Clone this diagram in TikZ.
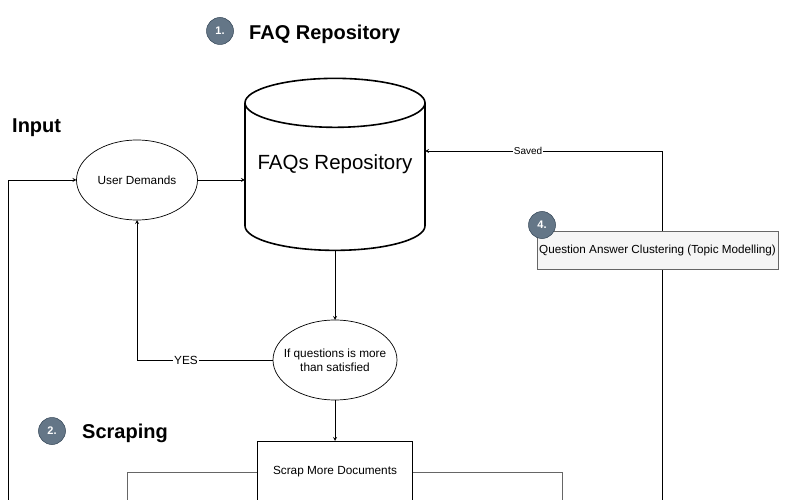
\documentclass[tikz,border=0pt]{standalone}
\usepackage{fontspec}
\setmainfont{Liberation Sans}
\usetikzlibrary{arrows,shapes}
\pgfdeclarelayer{background}
\pgfsetlayers{background,main}
\definecolor{slate}{RGB}{100,118,135}
\definecolor{slateline}{RGB}{49,67,84}
\definecolor{boxgray}{RGB}{245,245,245}
\tikzstyle{badge}=[circle,fill=slate,draw=slateline,line width=0.5pt,minimum size=27pt,inner sep=0pt,text=white,font=\bfseries\fontsize{11}{13}\selectfont]
\tikzstyle{heading}=[anchor=base west,inner sep=0pt,font=\bfseries\fontsize{20}{24}\selectfont]
\tikzstyle{oval}=[ellipse,draw,line width=0.7pt,inner sep=0pt,outer sep=0pt,align=center,font=\fontsize{11.8}{14}\selectfont]
\tikzstyle{store}=[cylinder,shape border rotate=90,draw,line width=1.6pt,aspect=0.316,minimum width=180pt,minimum height=172pt,inner sep=0pt,outer sep=0pt,text depth=29pt,font=\fontsize{20.5}{24}\selectfont]
\tikzstyle{task}=[rectangle,draw,line width=0.8pt,minimum width=155pt,minimum height=62pt,inner sep=0pt,outer sep=0pt,font=\fontsize{11.8}{14}\selectfont]
\tikzstyle{tagbox}=[rectangle,draw=black!60,fill=boxgray,line width=0.8pt,minimum width=241pt,minimum height=38pt,inner sep=0pt,font=\fontsize{11.7}{14}\selectfont]
\tikzstyle{tag}=[fill=white,inner sep=1pt]
\tikzstyle{edge}=[draw,line width=0.8pt,-stealth]
\tikzstyle{link}=[draw,line width=0.8pt,black!60]

\begin{document}
\begin{tikzpicture}[x=1pt,y=-1pt]
    \useasboundingbox (0,0) rectangle (788,500);
    \clip (0,0) rectangle (788,500);
    % First we draw the boxes
    \node[store] (repo) at (335,177) {FAQs Repository};
    \node[oval,minimum width=121pt,minimum height=80pt] (demand) at (137,180) {User Demands};
    \node[oval,inner xsep=-9pt,minimum width=124pt,minimum height=80pt] (check) at (335,360) {If questions is more\\than satisfied};
    \node[task] (scrap) at (335,472) {Scrap More Documents};
    \node[tagbox] (cluster) at (657.5,250) {Question Answer Clustering (Topic Modelling)};
    % Headings and numbered badges
    \foreach \pos/\name/\text in {{(249,39.5)/faq/FAQ Repository}, {(12,133)/input/Input}, {(82,438)/scraping/Scraping}}
        \node[heading] (\name) at \pos {\text};
    \foreach \pos/\name in {{(220,31)/1}, {(52,431)/2}, {(542,225)/4}}
        \node[badge] (b\name) at \pos {\name.};
    % Loose ends leaving the picture at the bottom
    \coordinate (leftend) at (8,500);
    \coordinate (scrapL) at (127,500);
    \coordinate (scrapR) at (562,500);
    \coordinate (rightend) at (662,500);
    \coordinate (savedturn) at (662,151);
    % Connect boxes with edges
    \begin{pgfonlayer}{background}
        \path[edge] (leftend) |- (demand.west);
        \path[edge] (demand.east) -- (demand.east -| repo.west);
        \path[edge] (repo.south) -- (check.north);
        \path[edge] (check.west) -| node[tag,pos=0.32,font=\fontsize{11.8}{14}\selectfont] {YES} (demand.south);
        \path[edge] (check.south) -- (scrap.north);
        \path[link] (scrap.west) -| (scrapL);
        \path[link] (scrap.east) -| (scrapR);
        \path[edge] (rightend) -- (savedturn) -- node[tag,pos=0.565,font=\fontsize{10}{12}\selectfont] {Saved} (savedturn -| repo.east);
    \end{pgfonlayer}
\end{tikzpicture}
\end{document}
